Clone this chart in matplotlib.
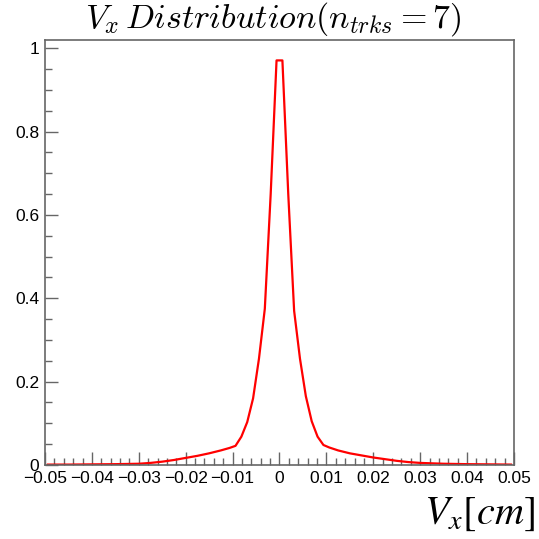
import matplotlib
matplotlib.use("Agg")
import matplotlib.pyplot as plt
from matplotlib.ticker import MultipleLocator, FuncFormatter

# Vx distribution (n_trks = 7)
vx = [-0.049375, -0.045, -0.04, -0.035, -0.03, -0.0275, -0.025, -0.0225,
      -0.02, -0.0175, -0.015, -0.0125, -0.010625, -0.009375, -0.008125,
      -0.006875, -0.005625, -0.004375, -0.003125, -0.001875, -0.000625,
      0.000625, 0.001875, 0.003125, 0.004375, 0.005625, 0.006875, 0.008125,
      0.009375, 0.010625, 0.0125, 0.015, 0.0175, 0.02, 0.0225, 0.025,
      0.0275, 0.03, 0.035, 0.04, 0.045, 0.049375]
counts = [0.001, 0.001, 0.0015, 0.002, 0.003, 0.005, 0.008, 0.012,
          0.017, 0.022, 0.028, 0.035, 0.041, 0.046, 0.068,
          0.103, 0.160, 0.255, 0.375, 0.650, 0.971,
          0.971, 0.650, 0.370, 0.255, 0.165, 0.105, 0.068,
          0.048, 0.042, 0.035, 0.028, 0.023, 0.018, 0.014, 0.010,
          0.007, 0.005, 0.003, 0.002, 0.0015, 0.001]

x_ticks = [-0.05, -0.04, -0.03, -0.02, -0.01, 0, 0.01, 0.02, 0.03, 0.04, 0.05]
y_ticks = [0, 0.2, 0.4, 0.6, 0.8, 1]

plt.rcParams["font.family"] = ["Liberation Sans", "DejaVu Sans"]

fig = plt.figure(figsize=(5.39, 5.39), dpi=100)
ax = fig.add_axes([0.0835, 0.1373, 0.87, 0.7885])

ax.plot(vx, counts, color="#ff0000", linewidth=1.6)

ax.set_xlim(-0.05, 0.05)
ax.set_ylim(0, 1.02)
ax.set_xticks(x_ticks)
ax.set_yticks(y_ticks)
ax.xaxis.set_minor_locator(MultipleLocator(0.002))
ax.yaxis.set_minor_locator(MultipleLocator(0.05))


def fmt(v, pos):
    s = f"{v:.2f}".rstrip("0").rstrip(".")
    if s in ("-0", "0.0"):
        s = "0"
    return s.replace("-", "\u2212")


ax.xaxis.set_major_formatter(FuncFormatter(fmt))
ax.yaxis.set_major_formatter(FuncFormatter(fmt))

grey = "#666666"
for sp in ax.spines.values():
    sp.set_color(grey)
    sp.set_linewidth(1.2)
ax.tick_params(which="both", direction="in", color=grey, width=1.0,
               labelsize=12.5, top=False, right=False)
ax.tick_params(which="major", length=9.4, pad=4)
ax.tick_params(which="minor", length=4.7)

fig.text(0.507, 1 - 19 / 539, r"$V_x\,Distribution(n_{trks}=7)$",
         ha="center", va="center", fontsize=24.5, math_fontfamily="cm")
fig.text(0.993, 0.046, r"$V_x[cm]$", ha="right", va="center",
         fontsize=29, math_fontfamily="stix")

fig.savefig("out.png", dpi=100)
